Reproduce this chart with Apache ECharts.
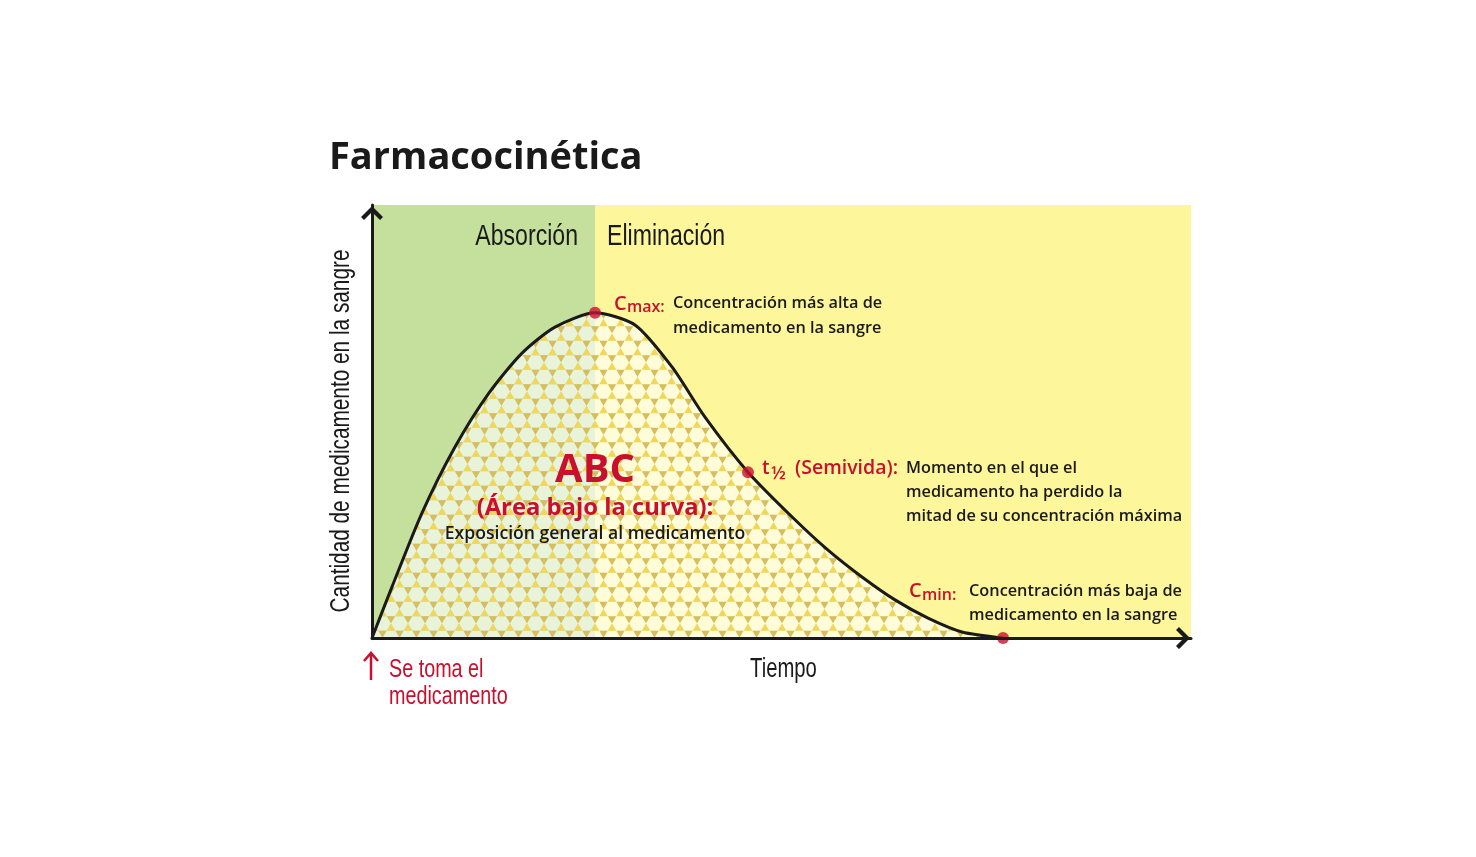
<!DOCTYPE html>
<html>
<head>
<meta charset="utf-8">
<script src="https://cdn.jsdelivr.net/npm/echarts@6/dist/echarts.min.js"></script>
<style>html,body{margin:0;padding:0;background:#fff}#c{width:1476px;height:857px}</style>
</head>
<body>
<div id="c"></div>
<script>
// ---- data ----
const title = 'Farmacocinética';
const phaseLabels = ['Absorción', 'Eliminación'];
const xAxisName = 'Tiempo';
const yAxisName = 'Cantidad de medicamento en la sangre';
const doseLabel = ['Se toma el', 'medicamento'];
// concentration curve [time, amount] (arbitrary units)
const curveTime = [0, 2.44, 6.11, 10.13, 14.29, 18.32, 22.34, 27.23, 32.11, 36.63, 40.66, 45.91, 51.65, 55.68, 59.83, 63.86, 67.89, 72.04, 77.05];
const curveAmount = [0, 11.8, 28.9, 44.1, 56.6, 65.8, 71.8, 75.1, 72.3, 62.6, 51.0, 38.3, 27.3, 20.3, 14.1, 8.8, 4.6, 1.4, 0];
// key points
const keyNames = ['Cmax', 't½', 'Cmin'];
const keyTime = [27.23, 45.91, 77.05];
const keyAmount = [75.1, 38.3, 0];
const cmaxText = ['Concentración más alta de', 'medicamento en la sangre'];
const halfText = ['Momento en el que el', 'medicamento ha perdido la', 'mitad de su concentración máxima'];
const cminText = ['Concentración más baja de', 'medicamento en la sangre'];
const aucText = ['ABC', '(Área bajo la curva):', 'Exposición general al medicamento'];

const RED = '#c8102e', BLACK = '#1a1a1a', GREEN = '#c5df9d', YELLOW = '#fef69b';
const COND = "'Liberation Sans',Arial,sans-serif";
const SANS = "'Open Sans','Noto Sans',sans-serif";

function makePattern() {
  const a = 8.5, v = 7.25, W = 17, H = 29;
  const c = document.createElement('canvas'); c.width = W; c.height = H;
  const g = c.getContext('2d');
  function poly(pts, col) { g.beginPath(); g.moveTo(pts[0][0], pts[0][1]); for (let k = 1; k < pts.length; k++) g.lineTo(pts[k][0], pts[k][1]); g.closePath(); g.fillStyle = col; g.fill(); }
  for (let j = -1; j <= 2; j++) {
    for (let i = -1; i <= 2; i++) {
      const cx = i * 2 * a + ((j % 2 + 2) % 2 ? a : 0), cy = j * 2 * v;
      poly([[cx - a, cy], [cx - a / 2, cy - v], [cx + a / 2, cy - v], [cx + a, cy], [cx + a / 2, cy + v], [cx - a / 2, cy + v]], 'rgba(255,255,255,0.62)');
      poly([[cx - a / 2, cy - v], [cx + a / 2, cy - v], [cx, cy - 2 * v]], '#f1d65c');
      poly([[cx - a / 2, cy + v], [cx + a / 2, cy + v], [cx, cy + 2 * v]], '#d6bd5e');
    }
  }
  return c;
}

const chart = echarts.init(document.getElementById('c'), null, {renderer: 'canvas'});
const chevron = 'path://M0,11 L11,0 L22,11 L19,14 L11,6 L3,14 Z';
const axisCommon = {
  type: 'value', min: 0, max: 100, z: 10,
  splitLine: {show: false}, axisTick: {show: false}, axisLabel: {show: false},
  axisLine: {show: true, onZero: false, lineStyle: {color: BLACK, width: 3}, symbol: ['none', chevron], symbolSize: [22, 14], symbolOffset: [0, -8]}
};
const cmaxX = keyTime[0];
chart.setOption({
  animation: false,
  grid: {left: 372, top: 205, right: 285, bottom: 219, containLabel: false},
  xAxis: Object.assign({}, axisCommon),
  yAxis: Object.assign({}, axisCommon),
  series: [
    {type: 'line', z: 1, data: [[0, 0]], symbol: 'none', lineStyle: {width: 0}, silent: true,
      markArea: {silent: true, data: [
        [{xAxis: 0, itemStyle: {color: GREEN}}, {xAxis: cmaxX}],
        [{xAxis: cmaxX, itemStyle: {color: YELLOW}}, {xAxis: 100}]
      ]}},
    {type: 'line', z: 2, smooth: 0.25, symbol: 'none', data: curveTime.map((t, i) => [t, curveAmount[i]]),
      lineStyle: {color: BLACK, width: 3}, areaStyle: {color: {image: makePattern(), repeat: 'repeat'}, opacity: 1}},
    {type: 'scatter', z: 5, symbolSize: 12, itemStyle: {color: RED}, data: keyTime.map((t, i) => [t, keyAmount[i]])}
  ]
});

const P = keyTime.map((t, i) => chart.convertToPixel({gridIndex: 0}, [t, keyAmount[i]]));
const O = chart.convertToPixel({gridIndex: 0}, [0, 0]);
const E = chart.convertToPixel({gridIndex: 0}, [100, 0]);
const T = (x, y, text, size, color, font, weight, align, sx) => ({type: 'text', x: x, y: y, z: 20, scaleX: sx || 1,
  style: {text: text, fontSize: size, fill: color, fontFamily: font, fontWeight: weight || 'normal', align: align || 'left', verticalAlign: 'middle'}});
const g = [];
g.push(T(329, 158, title, 38, BLACK, SANS, 'bold'));
g.push(T(P[0][0] - 17, 237, phaseLabels[0], 30, BLACK, COND, 'normal', 'right', 0.77));
g.push(T(P[0][0] + 12, 237, phaseLabels[1], 30, BLACK, COND, 'normal', 'left', 0.77));
// Cmax
g.push(T(P[0][0] + 19, P[0][1] - 9, 'C', 20, RED, SANS, 600));
g.push(T(P[0][0] + 32, P[0][1] - 5, 'max:', 16, RED, SANS, 600));
cmaxText.forEach((s, i) => g.push(T(P[0][0] + 78, P[0][1] - 9 + i * 25, s, 16.3, BLACK, SANS, 600)));
// t1/2
g.push(T(P[1][0] + 14, P[1][1] - 4, 't', 19, RED, SANS, 600));
g.push(T(P[1][0] + 23, P[1][1] + 2, '½', 18, RED, SANS, 600));
g.push(T(P[1][0] + 47, P[1][1] - 4, '(Semivida):', 19.5, RED, SANS, 600));
halfText.forEach((s, i) => g.push(T(P[1][0] + 158, P[1][1] - 4 + i * 24, s, 16.3, BLACK, SANS, 600)));
// Cmin
g.push(T(P[2][0] - 94, P[2][1] - 47, 'C', 20, RED, SANS, 600));
g.push(T(P[2][0] - 81, P[2][1] - 43, 'min:', 16, RED, SANS, 600));
cminText.forEach((s, i) => g.push(T(P[2][0] - 34, P[2][1] - 47 + i * 24, s, 16.3, BLACK, SANS, 600)));
// AUC
g.push(T(P[0][0], 471, aucText[0], 40, RED, SANS, 'bold', 'center'));
g.push(T(P[0][0], 508, aucText[1], 23.8, RED, SANS, 'bold', 'center'));
g.push(T(P[0][0], 534, aucText[2], 17.6, BLACK, SANS, 600, 'center'));
// axis names
g.push(T((O[0] + E[0]) / 2 + 2, O[1] + 32, xAxisName, 27, BLACK, COND, 'normal', 'center', 0.75));
g.push({type: 'text', x: 342, y: 431, rotation: Math.PI / 2, scaleX: 0.77, z: 20,
  style: {text: yAxisName, fontSize: 27, fill: BLACK, fontFamily: COND, align: 'center', verticalAlign: 'middle'}});
// dose arrow
g.push({type: 'line', z: 20, shape: {x1: O[0] - 1, y1: O[1] + 42, x2: O[0] - 1, y2: O[1] + 16}, style: {stroke: RED, lineWidth: 2.5}});
g.push({type: 'polyline', z: 20, shape: {points: [[O[0] - 8, O[1] + 23], [O[0] - 1, O[1] + 15], [O[0] + 6, O[1] + 23]]}, style: {stroke: RED, lineWidth: 2.5, fill: null}});
doseLabel.forEach((s, i) => g.push(T(O[0] + 17, O[1] + 32 + i * 27, s, 26, RED, COND, 'normal', 'left', 0.76)));
chart.setOption({graphic: g});
</script>
</body>
</html>
